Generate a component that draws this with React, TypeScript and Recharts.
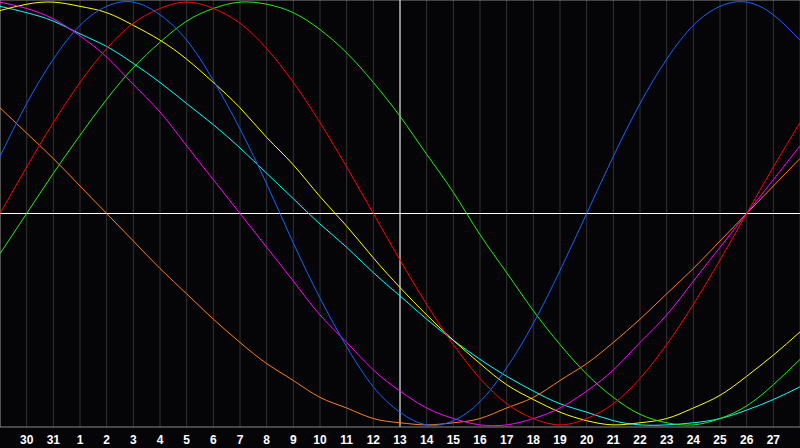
import { LineChart, Line, XAxis, YAxis, CartesianGrid, ReferenceLine } from 'recharts';

// day labels, one per column (first and last sit on the chart edges and are not labelled)
const days = ['29', '30', '31', '1', '2', '3', '4', '5', '6', '7', '8', '9', '10', '11', '12', '13', '14', '15', '16', '17', '18', '19', '20', '21', '22', '23', '24', '25', '26', '27', '28'];

// rhythm values in percent
const physical = [27, 52, 73, 89, 98, 100, 94, 82, 63, 40, 14, -14, -40, -63, -82, -94, -100, -98, -89, -73, -52, -27, 0, 27, 52, 73, 89, 98, 100, 94, 82];
const emotional = [0, 22, 43, 62, 78, 90, 97, 100, 97, 90, 78, 62, 43, 22, 0, -22, -43, -62, -78, -90, -97, -100, -97, -90, -78, -62, -43, -22, 0, 22, 43];
const intellectual = [-19, 0, 19, 37, 54, 69, 81, 91, 97, 100, 99, 95, 87, 76, 62, 46, 28, 10, -10, -28, -46, -62, -76, -87, -95, -99, -100, -97, -91, -81, -69];
const intuitive = [100, 97, 92, 84, 74, 61, 48, 32, 16, 0, -16, -32, -48, -61, -74, -84, -92, -97, -100, -100, -97, -92, -84, -74, -61, -48, -32, -16, 0, 16, 32];
const aesthetic = [96, 99, 100, 98, 95, 89, 82, 73, 62, 50, 36, 23, 8, -6, -21, -35, -48, -60, -71, -81, -88, -94, -98, -100, -99, -97, -92, -86, -77, -67, -56];
const awareness = [50, 38, 26, 13, 0, -13, -26, -38, -50, -61, -71, -79, -87, -92, -97, -99, -100, -99, -97, -92, -87, -79, -71, -61, -50, -38, -26, -13, 0, 13, 26];
const spiritual = [98, 95, 91, 85, 79, 71, 62, 52, 42, 31, 19, 7, -5, -16, -28, -39, -50, -60, -69, -77, -84, -90, -94, -98, -100, -100, -99, -97, -93, -88, -82];

const todayIndex = 15;

const data = days.map((d, i) => ({
  i,
  day: d,
  physical: physical[i],
  emotional: emotional[i],
  intellectual: intellectual[i],
  intuitive: intuitive[i],
  aesthetic: aesthetic[i],
  awareness: awareness[i],
  spiritual: spiritual[i],
}));

const tickIdx = days.map((_, i) => i).slice(1, days.length - 1);

const series = [
  { key: 'awareness', color: '#ff7f1e' },
  { key: 'spiritual', color: '#00ffff' },
  { key: 'aesthetic', color: '#ffff00' },
  { key: 'intuitive', color: '#ff00ff' },
  { key: 'intellectual', color: '#22ee11' },
  { key: 'emotional', color: '#ff0000' },
  { key: 'physical', color: '#1464ff' },
];

export default function App() {
  return (
    <div style={{ width: 800, height: 448, background: '#050508' }}>
      <style>{`body{margin:0;background:#050508}`}</style>
      <LineChart width={800} height={448} data={data} margin={{ top: 0, right: 0, left: 0, bottom: 0 }}>
        <CartesianGrid horizontal={false} stroke="#333" />
        <XAxis
          dataKey="i"
          type="number"
          domain={[0, 30]}
          ticks={tickIdx}
          tickFormatter={(v) => days[v]}
          height={21}
          tickLine={false}
          axisLine={{ stroke: '#888' }}
          tick={{ fill: '#fff', fontSize: 12, fontWeight: 'bold', fontFamily: 'Liberation Sans, Arial, sans-serif' }}
          interval={0}
        />
        <YAxis hide domain={[-101, 101]} />
        <ReferenceLine y={101} stroke="#888" />
        <ReferenceLine x={0} stroke="#888" />
        <ReferenceLine y={0} stroke="#fff" />
        <ReferenceLine x={todayIndex} stroke="#fff" />
        {series.map((s) => (
          <Line
            key={s.key}
            type="natural"
            dataKey={s.key}
            stroke={s.color}
            strokeWidth={1}
            dot={false}
            activeDot={false}
            isAnimationActive={false}
          />
        ))}
      </LineChart>
    </div>
  );
}
